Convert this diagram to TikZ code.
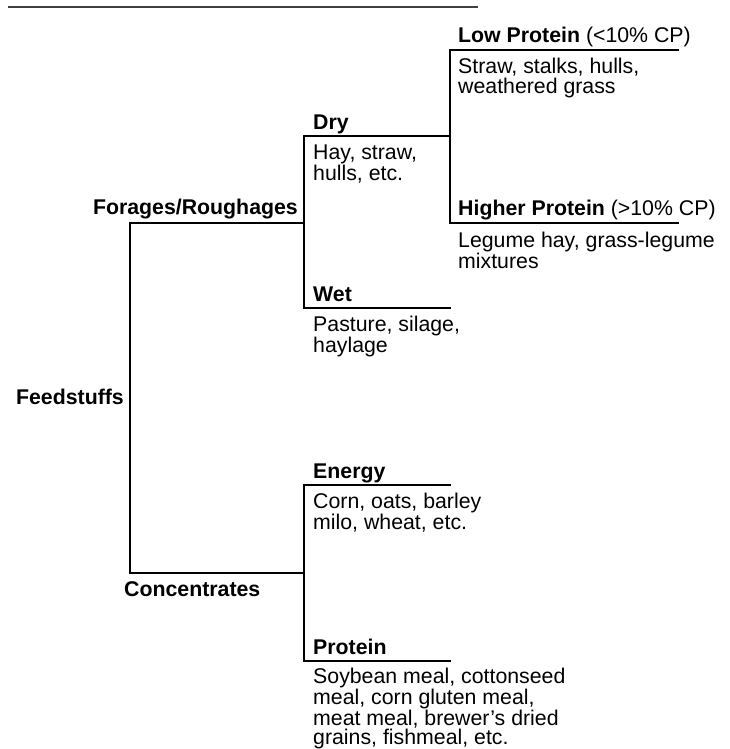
\documentclass[tikz,border=0pt]{standalone}
\usepackage{fontspec}
\setmainfont{Liberation Sans}
\usetikzlibrary{positioning}

\newcommand{\figfont}{\fontsize{21.3}{19.3}\selectfont}

\tikzset{
  branch/.style={line width=1.9pt, line cap=rect},
  lbl/.style={anchor=base west, inner sep=0pt, font=\figfont\bfseries},
  desc/.style={anchor=base west, inner sep=0pt, align=left, font=\figfont}
}

\begin{document}
\begin{tikzpicture}[x=1pt, y=-1pt]
  \useasboundingbox (0,0) rectangle (730,749);
  % rule under the heading
  \coordinate (ruleL) at (8,7);
  \coordinate (ruleR) at (478,7);
  \draw[line width=1.8pt, black!75] (ruleL) -- (ruleR);

  % branch points
  \coordinate (forA) at (130,223);  \coordinate (forB) at (304,223);
  \coordinate (conA) at (130,573);  \coordinate (conB) at (304,573);
  \coordinate (dryA) at (304,136);  \coordinate (dryB) at (450,136);
  \coordinate (wetA) at (304,308);  \coordinate (wetB) at (450,308);
  \coordinate (lowA) at (450,50);   \coordinate (lowB) at (678,50);
  \coordinate (higA) at (450,223);  \coordinate (higB) at (678,223);
  \coordinate (eneA) at (304,485);  \coordinate (eneB) at (450,485);
  \coordinate (proA) at (304,661);  \coordinate (proB) at (450,661);

  % labels (desc nodes sit on the baseline of their last line)
  \node[lbl, anchor=base east] (feed) at (124,404) {Feedstuffs};
  \node[lbl, anchor=base east] (forage) at (298,214) {Forages/Roughages};
  \node[lbl] (conc) at (124,596) {Concentrates};
  \node[lbl] (dry) at (313,129.5) {Dry};
  \node[desc] (drytxt) at (313,180.3) {Hay, straw,\\hulls, etc.};
  \node[lbl] (wet) at (313,301.5) {Wet};
  \node[desc] (wettxt) at (313,352.3) {Pasture, silage,\\haylage};
  \node[lbl] (low) at (458,42.5) {Low Protein \mdseries(<10\% CP)};
  \node[desc] (lowtxt) at (458,93.3) {Straw, stalks, hulls,\\weathered grass};
  \node[lbl] (high) at (458,215.5) {Higher Protein \mdseries(>10\% CP)};
  \node[desc] (hightxt) at (458,268.3) {Legume hay, grass-legume\\mixtures};
  \node[lbl] (energy) at (313,478.5) {Energy};
  \node[desc] (enetxt) at (313,529.3) {Corn, oats, barley\\milo, wheat, etc.};
  \node[lbl] (prot) at (313,654.5) {Protein};
  \node[desc] (protxt) at (313,744.9) {Soybean meal, cottonseed\\meal, corn gluten meal,\\meat meal, brewer’s dried\\grains, fishmeal, etc.};

  % tree
  \draw[branch] (forB) -- (forA) -- (conA) -- (conB);
  \draw[branch] (dryB) -- (dryA) -- (wetA) -- (wetB);
  \draw[branch] (lowB) -- (lowA) -- (higA) -- (higB);
  \draw[branch] (eneB) -- (eneA) -- (proA) -- (proB);
\end{tikzpicture}
\end{document}
